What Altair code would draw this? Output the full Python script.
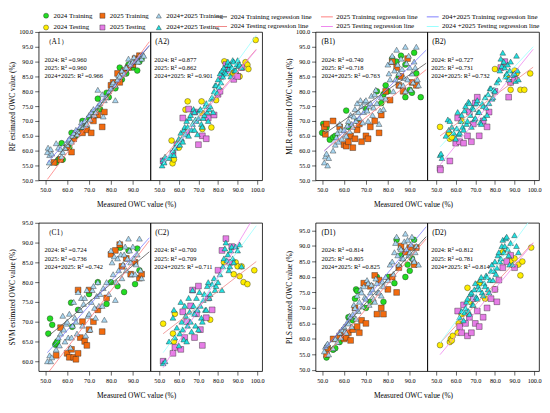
import altair as alt
import pandas as pd

FONT = "Liberation Serif"

POINT_SERIES = ["2024 Training", "2025 Training", "2024+2025 Training",
                "2024 Testing", "2025 Testing", "2024+2025 Testing"]
LINE_SERIES = ["2024 Training regression line", "2025 Training regression line",
               "204+2025 Training regression line", "2024 Testing regression line",
               "2025 Testing regression line", "2024 +2025 Testing regression line"]
POINT_COLORS = ["#22dd22", "#f26b0f", "#a9d6f0", "#ffee00", "#e67de6", "#22dfdf"]
POINT_SHAPES = ["circle", "square", "triangle-up", "circle", "square", "triangle-up"]
LINE_COLORS = ["#555555", "#ff7f7f", "#7f7fff", "#f08888", "#ee88ee", "#99ffff"]

# legend shows two rows (training / testing); Vega fills the grid column by column
LEGEND_ORDER = [0, 3, 1, 4, 2, 5]

# ---------------- RF ----------------
A1_2024 = [(55,56),(56,57),(57.5,62.5),(58,57),(61,61),(62,66),(64,65),(66,67),(67,70),(68,68),(70,71),(72,73),(74,77.5),(75,74),(78,79.5),(79,78),(82,81),(84,88),(85,84),(87,86),(88,89),(90,88),(92,87),(93,90),(94,91)]
A1_2025 = [(54,56),(57,57),(60,61),(62,59.5),(63,64),(65,66),(67,66),(69,67),(71,66),(72,70),(74,72),(76,68),(77,73),(80,82),(81,83),(83,86),(84,83),(86,87),(88,88),(90,89),(91,91),(93,92)]
A1_BOTH = [(51,59.5),(51.3,61),(51.8,56),(52,58.5),(52.5,60.5),(53,59),(55,62.5),(56,61),(57,60.5),(57.5,58),(58,59.5),(59,61),(60,62),(60.5,63.5),(61,64),(62,63),(62.5,65),(63,66),(64,67),(64.5,65.5),(65,66.5),(66,68),(66.5,69.5),(67,68),(68,70),(68.5,68.5),(69,69),(70,72),(70.5,70.5),(71,73),(72,74),(72.5,72),(73,73),(74,80.5),(74,75),(75,76),(76,79),(76.5,71.5),(77,77),(78,78),(79,80),(80,81),(80.5,82.5),(81,83),(82,77),(82,82),(83,84),(83.5,85.5),(84,85),(85,87),(86,86),(86.5,88),(87,88),(88,91),(88.5,89.5),(89,89),(90,90),(90.5,91.5),(91,90),(92,91),(92.5,90),(93,92),(94,91),(94.5,92.5),(95,92)]
A2_2024 = [(99.2,97.3),(56.3,63.4),(56.8,55.7),(57.5,57),(60,61),(63.4,73.8),(64.5,76.6),(71.6,76.6),(71.9,72.7),(76.6,67.8),(72,67.3),(79,77),(83.2,90.1),(86.8,86.2),(89,86),(91,85),(94,89.8),(95,88.9),(95.5,87.5)]
A2_2025 = [(52,56.5),(57,59),(59,62),(62,71),(64,66),(65,74),(68,73),(70,62),(72,65),(74,64),(75,71),(78,72),(80,79),(81,80),(82,85),(84,89),(85,87),(88,84),(90,85),(92,88)]
A2_BOTH = [(51.5,55),(52,57),(52.5,56),(53,58),(55,57.5),(56,58.5),(57,60),(57.5,58.5),(58,61),(59,62.5),(60,64),(60.5,62),(61,66),(61.5,64),(62,63),(62.5,67),(63,68),(63.5,65.5),(64,70),(64.5,68),(65,65),(65.5,71),(66,72),(66.5,67),(67,69),(67.5,74),(68,67),(68,73),(68.5,70.5),(69,70),(69.5,65.5),(70,71),(70.5,73.5),(71,74),(71.5,69),(72,68),(72.5,71),(73,72),(73.5,75),(74,76),(74.5,73),(75,70),(75.5,74),(76,75),(76.5,77.5),(77,78),(77.5,73),(78,80),(78.5,82),(79,82),(79.5,79.5),(80,84),(80.5,81.5),(81,86),(81.5,83),(82,87),(82.5,85),(83,88),(83.5,86.5),(84,86),(84.5,89),(85,90),(85.5,87.5),(86,89),(86.5,85),(87,88),(87.5,90.5),(88,90),(88.5,87),(89,87),(89.5,89),(90,90.5),(90.5,88.5),(91,89),(92,88)]

# ---------------- MLR ----------------
B1_2024 = [(50.5,69),(50,66),(52,67.8),(53.5,63.7),(55,64.5),(56,65),(61,73.5),(62,68),(66,70),(70,74),(75,80),(77,76),(78,79),(79,82),(80,80),(82,91),(84,90),(85,85),(86,92),(88,89),(88,78),(90,80.5),(91,79.5),(92,93),(93,86),(95,78)]
B1_2025 = [(51,68),(51.5,65.5),(52,69),(55,70),(58,68),(60,62),(61,61.5),(62,63),(63,65),(64,61),(65,64),(66,67),(67,69),(68,63),(70,65),(71,64),(72,68),(74,70),(76,66),(77,72),(79,80),(81,77),(82,90),(84,88),(85,82),(86,85),(87,80),(89,91),(91,83),(93,82)]
B1_BOTH = [(51,56),(51.5,58),(52,59),(52.5,55),(53,57.5),(55,60),(56,62),(56.5,64.5),(57,66),(57.5,63),(58,69),(58.5,67),(59,64),(60,67),(60.5,65.5),(61,65),(61.5,68.5),(62,70),(62.5,66.5),(63,72),(63.5,69),(64,68),(64.5,71.5),(65,74),(65.5,70),(66,76),(66.5,73),(67,71),(67.5,77),(68,75),(68.5,69.5),(69,73),(69.5,76.5),(70,77),(70.5,73.5),(71,70),(71.5,75),(72,76),(72.5,78.5),(73,72),(73.5,74.5),(74,79),(74.5,80.5),(75,76),(76,69),(76.5,73.5),(77,78),(78,74),(79,77.5),(80,89),(80.5,86),(81,84),(81.5,90),(82,92),(82.5,80),(83,87),(83.5,84),(84,94),(84.5,89),(85,86),(85.5,82),(86,91),(86.5,87.5),(87,82),(87.5,84.5),(88,95),(88.5,89.5),(89,84),(89.5,92),(90,88),(90.5,80.5),(91,86),(91.5,83),(92,90),(92.5,88),(93,95),(93.5,84),(94,82),(88,80)]
B2_2024 = [(52,68),(56.5,66),(57,64),(58,64.5),(63,70),(80,87.5),(86,85),(88,83),(88,80.5),(90,87),(91,86),(93,80.5),(95,80.5),(98,86)]
B2_2025 = [(52,54),(52.2,53.5),(57,56.5),(60,62.5),(61,71),(62,63),(64,62.5),(66,65),(67,73),(68,63),(69,69),(70,76),(71,78),(72,65),(74,70),(76,68),(77,73),(80,80),(83,88),(85,90),(87,78),(88,83),(90,84)]
B2_BOTH = [(52,58.5),(52.5,59),(53,57.5),(55,65),(56,70.5),(56.5,67),(57,70),(58,68),(59,66),(60,64),(60.5,67.5),(61,73),(61.5,65.5),(62,66),(62.5,70),(63,72),(63.5,68),(64,67),(64.5,73.5),(65,75),(65.5,69),(66,70),(66.5,76.5),(67,76),(67.5,72),(68,68),(68.5,74.5),(69,74),(69.5,70.5),(70,71),(70.5,76),(71,77),(71.5,73),(72,73),(72.5,69.5),(73,69),(73.5,76),(74,75),(74.5,71),(75,78),(75.5,74.5),(76,72),(76.5,79),(77,76),(77.5,81),(78,81),(78.5,77.5),(79,78),(79.5,80.5),(80,80),(81,83),(82,84),(82.5,87),(83,91),(83.5,88.5),(84,93),(84.5,90),(85,88),(85.5,85),(86,86),(86.5,89),(87,84),(87.5,87),(88,90),(89,85.5),(90,86),(90.5,83.5),(91,92),(91.5,87),(92,84)]

# ---------------- SVM ----------------
C1_2024 = [(51.4,67),(52.2,70.8),(53.2,69.2),(54.6,64.2),(55,64.5),(55.5,65),(61.8,74.8),(62.3,68.7),(65,73),(70,77),(74,80),(78,74.5),(80,80),(83,79),(84.2,88.7),(86,77.5),(88,88),(91,79.5),(92,88.5),(93,83)]
C1_2025 = [(55,61.5),(57,68.5),(60,62),(61,61),(62,63),(63,61),(64,60.5),(65,62),(65,78),(66,66),(67,70),(68,65),(69,64),(70,68),(70,78),(72,70),(74,73),(76,67.5),(78,76),(80,87),(82,88),(84,89.5),(85,84),(87,86),(89,82),(91,85),(93,81),(94,82)]
C1_BOTH = [(51,60),(52,61.5),(52.5,60),(53,61),(55,63),(56,66),(56.5,64),(57,67),(58,71.5),(58.5,68),(59,65),(59.5,69.5),(60,70),(60.5,66),(61,72),(61.5,63.5),(62,66),(62.5,69),(63,75),(63.5,71),(64,70),(64.5,67),(65,77.5),(65.5,73),(66,73),(66.5,76),(67,69),(67.5,74.5),(68,76),(68.5,66.5),(69,78),(69.5,71.5),(70,72),(70.5,68),(71,75),(71.5,78),(72,79),(72.5,73.5),(73,71),(73.5,76.5),(74,80),(74.5,74),(75,77),(76,74),(76.5,78.5),(77,70.5),(78,80),(79,77),(80,88),(80.5,85),(81,82),(81.5,86.5),(82,75.5),(82.5,80),(83,86),(83.5,83),(84,90),(84.5,87),(85,81),(85.5,84.5),(86,87),(86.5,89),(87,83),(87.5,86),(88,91),(88.5,88),(89,85),(89.5,82),(90,89),(90.5,86),(91,82),(91.5,84.5),(92,87),(93,91),(93.5,83),(94,81)]
C2_2024 = [(52,69.5),(57,67),(57.5,65),(58,72),(76,70.5),(83,85),(88,82),(89,85),(90,84),(91,81.5),(92,84),(93,80),(95,79.5),(98.5,83)]
C2_2025 = [(52,60),(57,62),(58,63.5),(61,63),(62,72.5),(63,66),(64,70),(66,74),(67,78),(68,66),(69,72),(70,79),(71,68),(72,64),(74,71),(75,76),(77,73),(80,83),(82,88),(84,91),(86,85),(87,89)]
C2_BOTH = [(52,59.5),(53,60),(55,65),(57,71),(57.5,73),(58,66),(59,68.5),(60,64),(60.5,67),(61,75),(61.5,70),(62,68),(62.5,65.5),(63,74),(63.5,71.5),(64,65),(64.5,69),(65,76),(65.5,72.5),(66,70),(66.5,67.5),(67,78),(67.5,74),(68,72),(68.5,69),(69,76),(69.5,73),(70,68),(70.5,77.5),(71,74),(71.5,71),(72,70),(72.5,75.5),(73,77),(73.5,73),(74,73),(74.5,79),(75,80),(75.5,76),(76,77),(77,79.5),(78,81),(78.5,78),(79,79),(80,80),(81,82),(82,78),(82.5,84),(83,86),(83.5,88.5),(84,90),(84.5,85.5),(85,87),(85.5,83),(86,84),(86.5,88),(87,89),(87.5,86),(88,85),(89,89),(90,88),(91,89.5),(92,84)]

# ---------------- PLS ----------------
D1_2024 = [(52,54),(55,56.5),(56,57),(58,59),(62,67),(64,66),(65,73),(65.5,76),(66,75.5),(70,70),(72,72),(75,80),(78,72),(80,80),(83,78),(84,92),(86,87),(88,80),(89,84),(90,82),(91,86),(92,92)]
D1_2025 = [(52,55),(52.5,57),(55,60),(58,61),(59,62),(60,60),(61,60.5),(62,62),(63,59.5),(64,63),(65,70),(66,64),(67,62),(68,66),(69,78),(70,65),(72,77),(74,80.5),(75,68),(76,79),(77,70),(78,68),(80,76),(82,80),(84,75),(85,83),(86,90),(88,88),(90,89.5),(92,84),(93,89.5)]
D1_BOTH = [(51,56),(51.5,57.5),(52,58),(52.5,58.5),(53,55),(55,57),(56,60),(57,59),(58,62),(58.5,60.5),(59,63),(60,64),(60.5,62.5),(61,62),(61.5,65.5),(62,65),(62.5,67.5),(63,67),(63.5,64),(64,68),(64.5,71),(65,70),(65.5,66.5),(66,74),(66.5,69),(67,72),(67.5,76),(68,75),(68.5,70.5),(69,77),(69.5,73.5),(70,73),(70.5,79),(71,78),(71.5,71),(72,75),(72.5,77.5),(73,76),(73.5,73),(74,72),(74.5,79.5),(75,78),(75.5,75),(76,75),(77,74),(77.5,78.5),(78,77),(79,80),(80,79),(81,84),(82,85),(82.5,81),(83,88),(83.5,91),(84,93),(84.5,87),(85,84),(85.5,89.5),(86,89),(86.5,86),(87,86),(87.5,91.5),(88,94),(88.5,89),(89,92),(89.5,87),(90,88),(90.5,90.5),(91,93),(91.5,86),(92,85),(92.5,88),(93,90),(94,84)]
D2_2024 = [(52,58),(57,59),(57.5,60),(58,59.5),(58.5,61),(61,62),(61.5,65),(63,68),(66,76.5),(67,72),(72,78),(75,73),(80,76),(84,88),(88,85),(90,86),(92,84),(93,80.5),(94,85),(98.5,89.5)]
D2_2025 = [(61,69),(62,64),(63,62),(64,71),(65,65),(66,61),(67,67),(68,62),(69,73),(70,65),(71,69),(72,64),(74,67),(76,70),(78,73),(80,76),(81,72),(82,79),(84,83),(86,85),(88,87),(90,83)]
D2_BOTH = [(62,67),(63,69),(64,66),(64.5,68.5),(65,70),(65.5,72),(66,73),(66.5,69),(67,68),(67.5,74.5),(68,75),(68.5,71),(69,71),(69.5,76),(70,78),(70.5,73.5),(71,73),(71.5,77),(72,76),(72.5,79),(73,80),(73.5,75),(74,74),(74.5,78),(75,77),(75.5,80.5),(76,80),(76.5,76),(77,75),(77.5,79),(78,82),(78.5,84),(79,79),(79.5,82),(80,85),(80.5,81),(81,83),(81.5,87),(82,88),(82.5,85),(83,86),(83.5,90),(84,92),(84.5,88),(85,90),(85.5,92.5),(86,93),(86.5,89),(87,87),(87.5,84),(88,91),(89,84),(90,93.5),(91,90),(92,88)]

R2_TEXT = {
    "A1": ["2024: R² =0.960", "2025: R² =0.960", "2024+2025: R² =0.966"],
    "A2": ["2024: R² =0.877", "2025: R² =0.862", "2024+2025: R² =0.901"],
    "B1": ["2024: R² =0.740", "2025: R² =0.718", "2024+2025: R² =0.763"],
    "B2": ["2024: R² =0.727", "2025: R² =0.731", "2024+2025: R² =0.732"],
    "C1": ["2024: R² =0.724", "2025: R² =0.736", "2024+2025: R² =0.742"],
    "C2": ["2024: R² =0.700", "2025: R² =0.709", "2024+2025: R² =0.711"],
    "D1": ["2024: R² =0.814", "2025: R² =0.805", "2024+2025: R² =0.825"],
    "D2": ["2024: R² =0.812", "2025: R² =0.781", "2024+2025: R² =0.814"],
}
PANEL_LABELS = {"A1": "（A1）", "A2": "(A2)", "B1": "(B1)", "B2": "(B2)",
                "C1": "（C1）", "C2": "(C2)", "D1": "(D1)", "D2": "(D2)"}
Y_TITLES = {"A": "RF estimated OWC value (%)", "B": "MLR estimated OWC value (%)",
            "C": "SVM estimated OWC value (%)", "D": "PLS estimated OWC value (%)"}
Y_DOMAINS = {"A": [50, 100], "B": [50, 100], "C": [57.5, 95], "D": [49.6, 97.5]}
Y_TICKS = {"A": [50, 55, 60, 65, 70, 75, 80, 85, 90, 95, 100],
           "B": [50, 55, 60, 65, 70, 75, 80, 85, 90, 95, 100],
           "C": [60, 65, 70, 75, 80, 85, 90, 95],
           "D": [50, 55, 60, 65, 70, 75, 80, 85, 90, 95]}
X_TICKS_LEFT = [50, 60, 70, 80, 90]
X_TICKS_RIGHT = [50, 60, 70, 80, 90, 100]

DATA = {
    "A1": [A1_2024, A1_2025, A1_BOTH], "A2": [A2_2024, A2_2025, A2_BOTH],
    "B1": [B1_2024, B1_2025, B1_BOTH], "B2": [B2_2024, B2_2025, B2_BOTH],
    "C1": [C1_2024, C1_2025, C1_BOTH], "C2": [C2_2024, C2_2025, C2_BOTH],
    "D1": [D1_2024, D1_2025, D1_BOTH], "D2": [D2_2024, D2_2025, D2_BOTH],
}

rows = []
for key, sets in DATA.items():
    off = 0 if key.endswith("1") else 3
    for i, pts in enumerate(sets):
        for (x, y) in pts:
            rows.append({"key": key, "series": POINT_SERIES[off + i],
                         "line": LINE_SERIES[off + i], "x": x, "y": y})
df = pd.DataFrame(rows)

leg_points = alt.Legend(orient="none", legendX=4, legendY=-20, columns=3, title=None,
                        labelFont=FONT, labelFontSize=7, labelColor="black",
                        symbolSize=26, columnPadding=6, rowPadding=4,
                        symbolStrokeWidth=0.4, labelOffset=4)
leg_lines = alt.Legend(orient="none", legendX=178, legendY=-22, columns=3, title=None,
                       labelFont=FONT, labelFontSize=7, labelColor="black",
                       symbolType="stroke", symbolSize=144, symbolStrokeWidth=1,
                       columnPadding=6, rowPadding=0, labelOffset=3)

fill_scale = alt.Scale(domain=[POINT_SERIES[i] for i in LEGEND_ORDER],
                       range=[POINT_COLORS[i] for i in LEGEND_ORDER])
shape_scale = alt.Scale(domain=[POINT_SERIES[i] for i in LEGEND_ORDER],
                        range=[POINT_SHAPES[i] for i in LEGEND_ORDER])
line_scale = alt.Scale(domain=[LINE_SERIES[i] for i in LEGEND_ORDER],
                       range=[LINE_COLORS[i] for i in LEGEND_ORDER])

W, H = 113, 150


def sub(key):
    p = key[0]
    left = key.endswith("1")
    xdom = [47, 98] if left else [45.5, 102.5]
    ext = [51, 97.5] if left else [52, 99.5]
    xenc = alt.X("x:Q", scale=alt.Scale(domain=xdom, nice=False, zero=False),
                 axis=alt.Axis(values=X_TICKS_LEFT if left else X_TICKS_RIGHT,
                               format=".1f", title=None))
    if left:
        yaxis = alt.Axis(values=Y_TICKS[p], format=".1f", title=Y_TITLES[p],
                         minExtent=19, maxExtent=19)
    else:
        yaxis = None
    yenc = alt.Y("y:Q", scale=alt.Scale(domain=Y_DOMAINS[p], nice=False, zero=False),
                 axis=yaxis)
    base = alt.Chart(df).transform_filter(alt.datum.key == key)
    pts = base.mark_point(filled=True, size=34, stroke="#222222", strokeWidth=0.4,
                          opacity=1, clip=True).encode(
        x=xenc, y=yenc,
        fill=alt.Fill("series:N", scale=fill_scale, legend=leg_points),
        shape=alt.Shape("series:N", scale=shape_scale, legend=leg_points),
    )
    lines = base.transform_regression("x", "y", groupby=["line"], extent=ext).mark_line(
        strokeWidth=0.8, clip=True).encode(
        x=xenc, y=yenc,
        stroke=alt.Stroke("line:N", scale=line_scale, legend=leg_lines),
    )
    lab = alt.Chart(pd.DataFrame({"t": [PANEL_LABELS[key]]})).mark_text(
        align="left", baseline="middle", font=FONT, fontSize=7.5, color="black").encode(
        x=alt.value(6 if left else 5), y=alt.value(10), text="t:N")
    r2 = alt.Chart(pd.DataFrame({"t": ["\n".join(R2_TEXT[key])]})).mark_text(
        align="left", baseline="middle", font=FONT, fontSize=6.5, color="black",
        lineBreak="\n", lineHeight=8.2).encode(
        x=alt.value(6 if left else 4), y=alt.value(28), text="t:N")
    return alt.layer(pts, lines, lab, r2).properties(width=W, height=H)


def panel(p):
    return alt.hconcat(
        sub(p + "1"), sub(p + "2"), spacing=0, bounds="flush",
        title=alt.TitleParams("Measured OWC value (%)", orient="bottom", anchor="middle",
                              font=FONT, fontSize=7.5, fontWeight="normal",
                              color="black", offset=8),
    )


chart = alt.vconcat(
    alt.hconcat(panel("A"), panel("B"), spacing=20),
    alt.hconcat(panel("C"), panel("D"), spacing=20),
    spacing=10,
).properties(
    padding={"left": 0, "top": 0, "right": 0, "bottom": 0}
).configure_view(
    stroke="black", strokeWidth=0.8
).configure_axis(
    labelFont=FONT, labelFontSize=6.3, labelColor="black", titleFont=FONT,
    titleFontSize=7.5, titleFontWeight="normal", titleColor="black",
    tickColor="black", tickSize=4, tickWidth=0.6, domain=False, grid=False,
    labelPadding=2, titlePadding=3,
).configure_legend(
    labelFont=FONT
)

chart.save("out.html", embed_options={"renderer": "svg", "actions": False})
